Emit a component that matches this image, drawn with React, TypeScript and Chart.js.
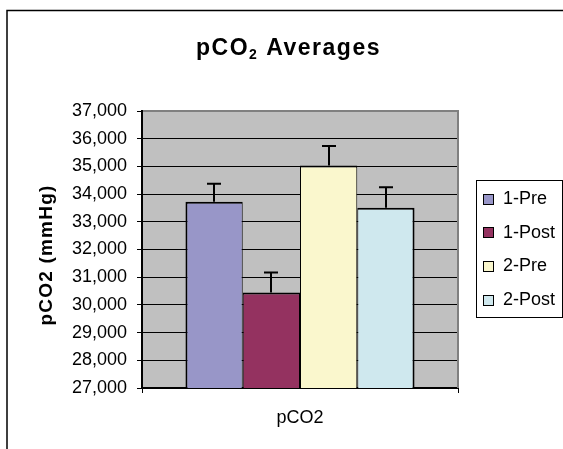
import React, { useEffect, useRef } from "react";
import { Chart, registerables } from "chart.js";

Chart.register(...registerables);

const categories = ["pCO2"];
const seriesNames = ["1-Pre", "1-Post", "2-Pre", "2-Post"];
const seriesValues = [33720, 30450, 35030, 33510];
const seriesErrors = [650, 720, 710, 735];
const seriesColors = ["#9896C8", "#943260", "#FAF7CD", "#CFE8EE"];
const yMin = 27000;
const yMax = 37000;
const yStep = 1000;
const titleMain = "pCO";
const titleSub = "2";
const titleRest = " Averages";
const yAxisTitle = "pCO2 (mmHg)";

const FONT = 'Arial, "Liberation Sans", sans-serif';

const framePlugin = {
  id: "frame",
  beforeDraw(chart: any) {
    const { ctx, chartArea: a } = chart;
    ctx.save();
    ctx.fillStyle = "#fff";
    ctx.fillRect(0, 0, chart.width, chart.height);
    ctx.strokeStyle = "#000";
    ctx.lineWidth = 1.5;
    ctx.strokeRect(7, 10.5, 700, 600);
    ctx.fillStyle = "#C0C0C0";
    ctx.fillRect(a.left, a.top, a.right - a.left, a.bottom - a.top);
    ctx.restore();
  },
  beforeDatasetsDraw(chart: any) {
    const { ctx, chartArea: a } = chart;
    ctx.save();
    ctx.strokeStyle = "#808080";
    ctx.lineWidth = 2;
    ctx.beginPath();
    ctx.moveTo(a.left + 1, a.top);
    ctx.lineTo(a.right, a.top);
    ctx.lineTo(a.right, a.bottom);
    ctx.stroke();
    ctx.restore();
  },
  afterDatasetsDraw(chart: any) {
    const { ctx } = chart;
    const y = chart.scales.y;
    ctx.save();
    ctx.strokeStyle = "#000";
    ctx.lineWidth = 2;
    chart.data.datasets.forEach((ds: any, i: number) => {
      const meta = chart.getDatasetMeta(i);
      meta.data.forEach((bar: any, j: number) => {
        const v = ds.data[j];
        const e = seriesErrors[i];
        const x = Math.round(bar.x);
        const y0 = y.getPixelForValue(v);
        const y1 = y.getPixelForValue(v + e);
        ctx.beginPath();
        ctx.moveTo(x, y0);
        ctx.lineTo(x, y1);
        ctx.moveTo(x - 7, y1);
        ctx.lineTo(x + 7, y1);
        ctx.stroke();
      });
    });
    ctx.restore();
  },
  afterDraw(chart: any) {
    const { ctx, chartArea: a } = chart;
    ctx.save();
    // Title
    ctx.fillStyle = "#000";
    ctx.textBaseline = "alphabetic";
    ctx.textAlign = "left";
    (ctx as any).letterSpacing = "1.5px";
    const big = `bold 23px ${FONT}`;
    const small = `bold 14px ${FONT}`;
    ctx.font = big;
    const w1 = ctx.measureText(titleMain).width;
    const w3 = ctx.measureText(titleRest).width;
    ctx.font = small;
    const w2 = ctx.measureText(titleSub).width;
    const total = w1 + w2 + w3;
    let tx = 288.5 - total / 2;
    const base = 55;
    ctx.font = big;
    ctx.fillText(titleMain, tx, base);
    tx += w1;
    ctx.font = small;
    ctx.fillText(titleSub, tx, base + 3.5);
    tx += w2;
    ctx.font = big;
    ctx.fillText(titleRest, tx, base);

    // Y axis title
    ctx.save();
    (ctx as any).letterSpacing = "1.2px";
    ctx.font = `bold 19px ${FONT}`;
    ctx.translate(47, 255);
    ctx.rotate(-Math.PI / 2);
    ctx.textAlign = "center";
    ctx.textBaseline = "middle";
    ctx.fillText(yAxisTitle, 0, 0);
    ctx.restore();

    // Legend
    (ctx as any).letterSpacing = "0px";
    ctx.strokeStyle = "#000";
    ctx.lineWidth = 1;
    ctx.strokeRect(476.5, 180.5, 86, 137);
    ctx.font = `18px ${FONT}`;
    ctx.textAlign = "left";
    ctx.textBaseline = "middle";
    seriesNames.forEach((name, i) => {
      const cy = 199 + i * 33.7;
      ctx.fillStyle = seriesColors[i];
      ctx.fillRect(483, Math.round(cy - 5.5), 11, 11);
      ctx.strokeRect(483.5, Math.round(cy - 5.5) + 0.5, 10, 10);
      ctx.fillStyle = "#000";
      ctx.fillText(name, 503, cy);
    });
    ctx.restore();
  },
};

export default function App() {
  const ref = useRef<HTMLCanvasElement>(null);
  useEffect(() => {
    const n = seriesNames.length;
    const chart = new Chart(ref.current as HTMLCanvasElement, {
      type: "bar",
      data: {
        labels: categories,
        datasets: seriesNames.map((name, i) => ({
          label: name,
          data: [seriesValues[i]],
          backgroundColor: seriesColors[i],
          borderColor: "#000",
          borderWidth: { top: 2, bottom: 2, left: i === 0 ? 2 : 1, right: i === n - 1 ? 2 : 1 },
          borderSkipped: false,
          barPercentage: 1,
          categoryPercentage: 0.725,
        })),
      },
      options: {
        responsive: false,
        animation: false,
        devicePixelRatio: 1,
        layout: { padding: { left: 30, top: 111, right: 105, bottom: 0 } },
        plugins: {
          legend: { display: false },
          title: { display: false },
          tooltip: { enabled: false },
        },
        scales: {
          x: {
            type: "category",
            offset: true,
            grid: {
              display: true,
              offset: true,
              drawOnChartArea: false,
              drawTicks: true,
              tickLength: 5,
              color: "#000",
              lineWidth: 1,
            },
            border: { display: true, color: "#000", width: 2 },
            ticks: { color: "#000", font: { size: 18, family: FONT }, padding: 14 },
            afterFit: (s: any) => {
              s.height = 61;
            },
          },
          y: {
            min: yMin,
            max: yMax,
            grid: { color: "#000", lineWidth: 1, tickLength: 5, drawTicks: true },
            border: { display: true, color: "#000", width: 2 },
            ticks: {
              stepSize: yStep,
              color: "#000",
              font: { size: 18, family: FONT },
              padding: 10,
              callback: (v: any) => Number(v).toLocaleString("en-US"),
            },
            afterFit: (s: any) => {
              s.width = 112;
            },
          },
        },
      },
      plugins: [framePlugin],
    } as any);
    return () => chart.destroy();
  }, []);
  return (
    <div style={{ position: "fixed", left: 0, top: 0, width: 563, height: 449 }}>
      <canvas ref={ref} width={563} height={449} style={{ display: "block", width: 563, height: 449 }} />
    </div>
  );
}
